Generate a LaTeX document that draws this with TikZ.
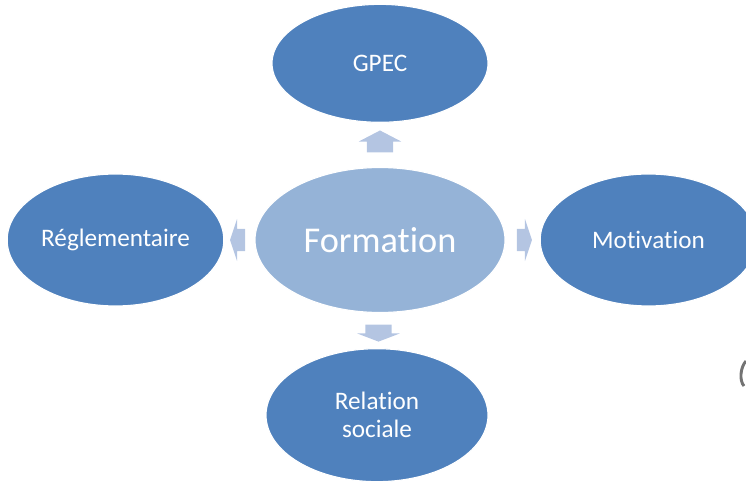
\documentclass[tikz,border=0pt]{standalone}
\usepackage{fontspec}
\setmainfont{Carlito}[RawFeature={-liga;-clig;-calt;-dlig}]
\usepackage{xcolor}
\usepackage{tikz}
\usetikzlibrary{shapes,arrows,positioning,calc}
\definecolor{outerblue}{RGB}{79,129,189}
\definecolor{centerblue}{RGB}{149,179,215}
\definecolor{arrowblue}{RGB}{180,197,226}
\tikzset{
    center/.style={ellipse, draw=white, line width=1pt, fill=centerblue, text=white, minimum width=7.5cm, minimum height=4.35cm, inner sep=0pt, font=\fontsize{31}{34}\selectfont},
    outer/.style={ellipse, draw=white, line width=1pt, fill=outerblue, text=white, minimum width=6.5cm, minimum height=3.96cm, inner sep=0pt, align=center, font=\fontsize{21.5}{24}\selectfont},
    vblock/.style={single arrow, draw=none, fill=arrowblue, text height=0.78cm, text depth=0pt, text width=0pt, single arrow head extend=0.24cm, inner sep=0pt},
    hblock/.style={single arrow, draw=none, fill=arrowblue, text height=0.66cm, text depth=0pt, text width=0pt, single arrow head extend=0.3cm, single arrow tip angle=143, minimum height=0.45cm, inner sep=0pt}
}
\begin{document}
\begin{tikzpicture}
    \useasboundingbox (0,0) rectangle (22.38,14.43);

    % Center
    \node [center] (formation) at (11.4,7.23) {Formation};

    % Outer ellipses
    \node [outer, above=1.32cm of formation, minimum width=6.48cm, minimum height=3.54cm] (gpec) {GPEC};
    \node [outer, left=0.9cm of formation] (regl) {Réglementaire};
    \node [outer, right=1.02cm of formation] (motiv) {Motivation};
    \node [outer, below=1.05cm of formation, xshift=-0.09cm, minimum width=6.66cm, minimum height=3.99cm] (relation) {Relation\\sociale};

    % Block arrows
    \node [vblock, rotate=90, minimum height=0.66cm, single arrow tip angle=125] (upar) at ($(formation.north)!0.5!(gpec.south)$) {};
    \node [vblock, rotate=-90, minimum height=0.51cm, single arrow tip angle=138] (downar) at ($(formation.south)!0.5!(relation.north)$) {};
    \node [hblock, rotate=180] (leftar) at ($(formation.west)!0.5!(regl.east)$) {};
    \node [hblock] (rightar) at ($(formation.east)!0.5!(motiv.west)$) {};

    % Cut shape at the edge
    \draw [color=black!55, line width=2.5pt] (22.38,3.6) .. controls (22.2,3.4) and (22.18,3.0) .. (22.32,2.85);
\end{tikzpicture}
\end{document}
